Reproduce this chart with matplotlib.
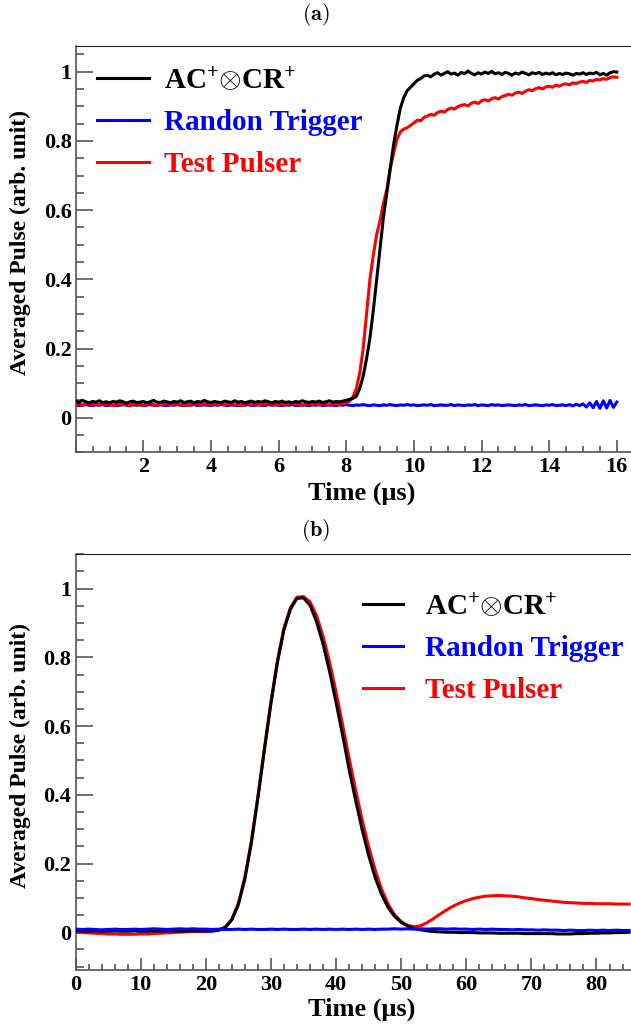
import numpy as np
import matplotlib
matplotlib.use("Agg")
import matplotlib.pyplot as plt
from matplotlib.ticker import MultipleLocator, FuncFormatter

plt.rcParams['font.family'] = ['Liberation Serif', 'DejaVu Serif']
plt.rcParams['font.weight'] = 'bold'
plt.rcParams['mathtext.fontset'] = 'custom'
plt.rcParams['mathtext.rm'] = 'Liberation Serif:bold'
plt.rcParams['mathtext.bf'] = 'Liberation Serif:bold'
plt.rcParams['mathtext.it'] = 'Liberation Serif:bold:italic'

# ---- data ----
labels = [r'AC$^{+}$$\otimes$CR$^{+}$', 'Randon Trigger', 'Test Pulser']
colors = ['#000000', '#0000ff', '#ff0000']

# panel (a): 0..16 us, every 0.1 us
time_a = np.round(np.arange(0, 16.05, 0.1), 2)
black_a = [0.048, 0.044, 0.050, 0.046, 0.043, 0.047, 0.045, 0.049, 0.044, 0.046,
           0.043, 0.047, 0.045, 0.049, 0.046, 0.042, 0.046, 0.048, 0.044, 0.045,
           0.047, 0.043, 0.046, 0.050, 0.045, 0.044, 0.048, 0.046, 0.043, 0.047,
           0.045, 0.049, 0.044, 0.046, 0.048, 0.043, 0.047, 0.045, 0.050, 0.046,
           0.044, 0.047, 0.045, 0.043, 0.048, 0.046, 0.044, 0.049, 0.045, 0.047,
           0.043, 0.046, 0.048, 0.044, 0.047, 0.045, 0.049, 0.046, 0.043, 0.047,
           0.045, 0.048, 0.044, 0.046, 0.043, 0.047, 0.045, 0.049, 0.046, 0.044,
           0.047, 0.045, 0.048, 0.044, 0.046, 0.049, 0.045, 0.047, 0.046, 0.048,
           0.050, 0.053, 0.056, 0.062, 0.085, 0.120, 0.170, 0.230, 0.310, 0.400,
           0.490, 0.580, 0.650, 0.720, 0.790, 0.845, 0.895, 0.925, 0.945, 0.955,
           0.965, 0.975, 0.980, 0.988, 0.990, 0.985, 0.993, 0.997, 0.990, 0.995,
           1.000, 0.993, 0.996, 0.990, 0.998, 0.994, 1.002, 0.995, 0.991, 0.997,
           0.993, 0.999, 0.995, 1.001, 0.994, 0.997, 0.992, 0.998, 0.995, 0.990,
           0.996, 0.993, 0.999, 0.995, 0.991, 0.997, 0.994, 0.998, 0.992, 0.996,
           0.993, 0.997, 0.991, 0.995, 0.992, 0.996, 0.994, 0.990, 0.995, 0.993,
           0.997, 0.992, 0.996, 0.994, 0.998, 0.991, 0.995, 0.990, 0.997, 1.000,
           0.999]
blue_a = [0.037, 0.035, 0.036, 0.038, 0.036, 0.035, 0.037, 0.036, 0.038, 0.035,
          0.036, 0.037, 0.035, 0.036, 0.038, 0.036, 0.035, 0.037, 0.036, 0.037,
          0.035, 0.036, 0.038, 0.036, 0.035, 0.037, 0.036, 0.035, 0.037, 0.036,
          0.038, 0.036, 0.035, 0.037, 0.036, 0.038, 0.035, 0.036, 0.037, 0.036,
          0.035, 0.037, 0.036, 0.038, 0.036, 0.035, 0.037, 0.036, 0.035, 0.037,
          0.036, 0.038, 0.035, 0.036, 0.037, 0.036, 0.035, 0.038, 0.036, 0.037,
          0.036, 0.035, 0.037, 0.036, 0.038, 0.035, 0.036, 0.037, 0.036, 0.035,
          0.037, 0.036, 0.038, 0.035, 0.036, 0.037, 0.036, 0.035, 0.037, 0.036,
          0.038, 0.036, 0.035, 0.037, 0.036, 0.038, 0.036, 0.035, 0.037, 0.036,
          0.035, 0.037, 0.036, 0.038, 0.036, 0.035, 0.037, 0.036, 0.038, 0.036,
          0.037, 0.035, 0.036, 0.037, 0.036, 0.038, 0.035, 0.036, 0.037, 0.036,
          0.036, 0.038, 0.035, 0.037, 0.036, 0.035, 0.037, 0.036, 0.038, 0.035,
          0.037, 0.036, 0.035, 0.038, 0.036, 0.037, 0.035, 0.036, 0.037, 0.036,
          0.035, 0.037, 0.036, 0.038, 0.035, 0.036, 0.037, 0.036, 0.035, 0.037,
          0.036, 0.038, 0.035, 0.036, 0.037, 0.035, 0.038, 0.034, 0.039, 0.035,
          0.040, 0.031, 0.043, 0.029, 0.047, 0.027, 0.049, 0.028, 0.050, 0.030,
          0.045]
red_a = [0.038, 0.042, 0.035, 0.040, 0.044, 0.037, 0.041, 0.036, 0.043, 0.039,
         0.041, 0.035, 0.039, 0.043, 0.037, 0.040, 0.034, 0.042, 0.038, 0.041,
         0.036, 0.040, 0.043, 0.038, 0.035, 0.041, 0.039, 0.044, 0.037, 0.040,
         0.042, 0.037, 0.040, 0.035, 0.041, 0.038, 0.043, 0.036, 0.040, 0.039,
         0.037, 0.041, 0.038, 0.044, 0.036, 0.040, 0.042, 0.037, 0.039, 0.035,
         0.040, 0.043, 0.037, 0.041, 0.038, 0.036, 0.042, 0.039, 0.041, 0.037,
         0.039, 0.042, 0.036, 0.040, 0.043, 0.038, 0.041, 0.035, 0.040, 0.042,
         0.038, 0.041, 0.037, 0.043, 0.039, 0.036, 0.040, 0.042, 0.038, 0.041,
         0.043, 0.048, 0.060, 0.085, 0.130, 0.200, 0.300, 0.400, 0.470, 0.530,
         0.570, 0.620, 0.660, 0.720, 0.765, 0.805, 0.826, 0.834, 0.838, 0.845,
         0.852, 0.860, 0.858, 0.868, 0.872, 0.877, 0.874, 0.882, 0.886, 0.883,
         0.891, 0.895, 0.892, 0.899, 0.903, 0.905, 0.901, 0.909, 0.912, 0.908,
         0.916, 0.919, 0.915, 0.922, 0.925, 0.921, 0.928, 0.931, 0.935, 0.932,
         0.938, 0.941, 0.937, 0.944, 0.948, 0.945, 0.951, 0.954, 0.950, 0.956,
         0.958, 0.955, 0.961, 0.958, 0.963, 0.965, 0.962, 0.968, 0.966, 0.970,
         0.972, 0.969, 0.975, 0.973, 0.978, 0.976, 0.980, 0.978, 0.983, 0.985,
         0.984]

# panel (b): 0..85 us, every 1 us
time_b = np.arange(0, 86, 1)
black_b = [0.004, 0.004, 0.003, 0.004, 0.003, 0.003, 0.004, 0.003, 0.003, 0.004,
           0.003, 0.003, 0.004, 0.003, 0.004, 0.004, 0.003, 0.004, 0.004, 0.004,
           0.004, 0.004, 0.006, 0.014, 0.036, 0.080, 0.155, 0.260, 0.390, 0.530,
           0.665, 0.785, 0.880, 0.940, 0.972, 0.973, 0.952, 0.905, 0.840, 0.760,
           0.670, 0.575, 0.475, 0.385, 0.300, 0.225, 0.160, 0.110, 0.072, 0.046,
           0.029, 0.018, 0.011, 0.007, 0.004, 0.002, 0.001, 0.000, 0.000, -0.001,
           -0.001, -0.001, -0.002, -0.002, -0.002, -0.003, -0.003, -0.003, -0.003, -0.004,
           -0.004, -0.004, -0.004, -0.004, -0.005, -0.005, -0.005, -0.004, -0.004, -0.003,
           -0.003, -0.002, -0.002, -0.001, -0.001, 0.000]
blue_b = [0.009, 0.008, 0.009, 0.008, 0.007, 0.008, 0.009, 0.008, 0.008, 0.009,
          0.008, 0.009, 0.010, 0.009, 0.008, 0.009, 0.010, 0.009, 0.010, 0.009,
          0.009, 0.008, 0.009, 0.008, 0.008, 0.009, 0.008, 0.009, 0.008, 0.008,
          0.009, 0.008, 0.009, 0.008, 0.008, 0.009, 0.008, 0.009, 0.008, 0.009,
          0.008, 0.009, 0.008, 0.009, 0.008, 0.009, 0.008, 0.009, 0.009, 0.010,
          0.009, 0.010, 0.009, 0.010, 0.009, 0.010, 0.010, 0.009, 0.010, 0.009,
          0.009, 0.008, 0.009, 0.008, 0.009, 0.008, 0.008, 0.007, 0.008, 0.007,
          0.007, 0.006, 0.007, 0.006, 0.006, 0.005, 0.006, 0.005, 0.005, 0.006,
          0.005, 0.006, 0.005, 0.006, 0.005, 0.005]
red_b = [0.000, -0.001, -0.002, -0.003, -0.004, -0.005, -0.005, -0.006, -0.006, -0.006,
         -0.005, -0.005, -0.004, -0.003, -0.002, -0.001, 0.000, 0.001, 0.002, 0.002,
         0.002, 0.003, 0.006, 0.015, 0.038, 0.084, 0.160, 0.265, 0.395, 0.535,
         0.670, 0.790, 0.885, 0.945, 0.975, 0.977, 0.962, 0.922, 0.862, 0.787,
         0.700, 0.605, 0.508, 0.415, 0.328, 0.250, 0.182, 0.125, 0.082, 0.051,
         0.031, 0.020, 0.016, 0.019, 0.028, 0.040, 0.053, 0.065, 0.076, 0.085,
         0.092, 0.098, 0.102, 0.105, 0.106, 0.107, 0.106, 0.105, 0.103, 0.100,
         0.098, 0.095, 0.093, 0.091, 0.089, 0.087, 0.086, 0.085, 0.084, 0.084,
         0.083, 0.083, 0.083, 0.082, 0.082, 0.082]


def fmt(v, pos):
    return '%g' % round(v, 3)


def fmt_no0(v, pos):
    if abs(v) < 1e-9:
        return ''
    return '%g' % round(v, 3)


def style_axes(ax, xmaj, xmin, xfmt, xlab_y):
    for s in ['left', 'bottom']:
        ax.spines[s].set_color('#555555')
        ax.spines[s].set_linewidth(1.2)
    ax.spines['top'].set_color('#222222')
    ax.spines['right'].set_visible(False)
    ax.xaxis.set_major_locator(MultipleLocator(xmaj))
    ax.xaxis.set_minor_locator(MultipleLocator(xmin))
    ax.yaxis.set_major_locator(MultipleLocator(0.2))
    ax.yaxis.set_minor_locator(MultipleLocator(0.05))
    ax.xaxis.set_major_formatter(FuncFormatter(xfmt))
    ax.yaxis.set_major_formatter(FuncFormatter(fmt))
    ax.tick_params(axis='both', which='both', direction='in', color='#555555',
                   width=1.2, labelsize=16, top=False, right=False)
    ax.tick_params(axis='y', which='major', length=12, pad=3)
    ax.tick_params(axis='y', which='minor', length=6)
    ax.tick_params(axis='x', which='major', length=9, pad=3.5)
    ax.tick_params(axis='x', which='minor', length=4.5)
    ax.set_xlabel('Time (μs)', fontsize=19, fontweight='bold')
    ax.set_ylabel('Averaged Pulse (arb. unit)', fontsize=17, fontweight='bold')
    ax.xaxis.set_label_coords(0.515, xlab_y)
    ax.yaxis.set_label_coords(-0.081, 0.515)


fig = plt.figure(figsize=(6.31, 10.28), dpi=100)

# ---- panel (a) ----
ax1 = fig.add_axes([0.12, 0.560, 0.88, 0.3955])
ax1.plot(time_a, blue_a, color=colors[1], lw=2.2, label=labels[1], zorder=2)
ax1.plot(time_a, red_a, color=colors[2], lw=2.2, label=labels[2], zorder=3)
ax1.plot(time_a, black_a, color=colors[0], lw=2.2, label=labels[0], zorder=4)
ax1.set_xlim(0, 16.42)
ax1.set_ylim(-0.1, 1.075)
style_axes(ax1, 2, 0.5, fmt_no0, -0.071)
h, l = ax1.get_legend_handles_labels()
order = [2, 0, 1]
leg1 = ax1.legend([h[i] for i in order], [l[i] for i in order], loc='upper left',
                  bbox_to_anchor=(0.038, 0.948), frameon=False, fontsize=21,
                  handlelength=1.8, handletextpad=0.5, labelspacing=0.5,
                  borderpad=0, borderaxespad=0)
for t, c in zip(leg1.get_texts(), [colors[0], colors[1], colors[2]]):
    t.set_color(c)

# ---- panel (b) ----
ax2 = fig.add_axes([0.1197, 0.0564, 0.8803, 0.4044])
ax2.plot(time_b, red_b, color=colors[2], lw=2.2, label=labels[2], zorder=2)
ax2.plot(time_b, black_b, color=colors[0], lw=2.2, label=labels[0], zorder=3)
ax2.plot(time_b, blue_b, color=colors[1], lw=2.2, label=labels[1], zorder=4)
ax2.set_xlim(0, 85.3)
ax2.set_ylim(-0.11, 1.1)
style_axes(ax2, 10, 2, fmt, -0.066)
h, l = ax2.get_legend_handles_labels()
order = [1, 2, 0]
leg2 = ax2.legend([h[i] for i in order], [l[i] for i in order], loc='upper left',
                  bbox_to_anchor=(0.5175, 0.907), frameon=False, fontsize=21,
                  handlelength=1.37, handletextpad=0.75, labelspacing=0.5,
                  borderpad=0, borderaxespad=0)
for t, c in zip(leg2.get_texts(), [colors[0], colors[1], colors[2]]):
    t.set_color(c)

fig.text(0.5, 1 - 14 / 1028, r'$\mathbf{(a)}$', math_fontfamily='cm',
         fontsize=16, ha='center', va='center')
fig.text(0.5, 1 - 530 / 1028, r'$\mathbf{(b)}$', math_fontfamily='cm',
         fontsize=16, ha='center', va='center')

fig.savefig('out.png', dpi=100)
